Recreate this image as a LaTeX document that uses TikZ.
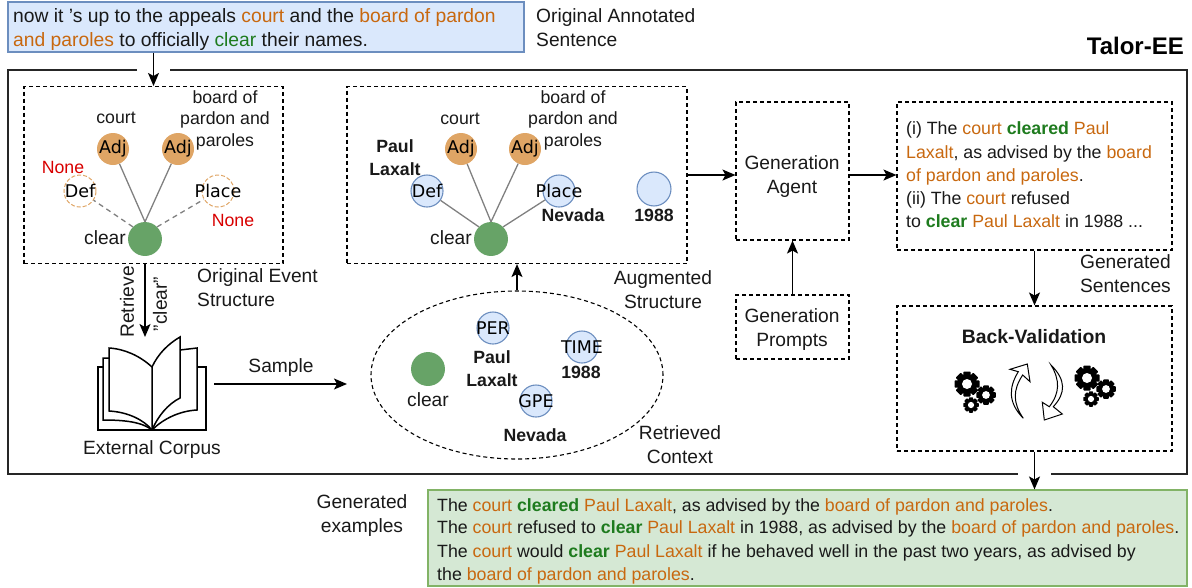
\documentclass[tikz,border=0pt]{standalone}
\usepackage{fontspec}
\setmainfont{Liberation Sans}
\newfontfamily\tagfont{DejaVu Sans}
\usetikzlibrary{shapes.geometric,arrows.meta}
\tikzset{>={Stealth[length=13pt,width=11pt,inset=3pt]}}
\definecolor{argorange}{HTML}{C8680F}
\definecolor{trigreen}{HTML}{1E7B1E}
\definecolor{nonered}{HTML}{D80000}
\definecolor{argfillc}{HTML}{DFA565}
\definecolor{trigfillc}{HTML}{67A367}
\definecolor{bluefillc}{HTML}{DAE8FC}
\definecolor{bluedrawc}{HTML}{6C8EBF}
\definecolor{resfillc}{HTML}{D5E8D4}
\definecolor{resdrawc}{HTML}{82B366}
\newcommand{\orgtxt}[1]{\textcolor{argorange}{#1}}
\newcommand{\grntxt}[1]{\textcolor{trigreen}{#1}}
\newcommand{\grnbf}[1]{\textcolor{trigreen}{\bfseries #1}}
\tikzset{
  lbl/.style = {font=\fontsize{19.2}{24}\selectfont, align=center, inner sep=0pt, text=black!90},
  smalllbl/.style = {lbl, font=\fontsize{17.7}{21.5}\selectfont},
  boldlbl/.style = {lbl, font=\fontsize{17.7}{23}\selectfont\bfseries},
  noneword/.style = {smalllbl, text=nonered},
  txtline/.style = {anchor=base west, inner sep=0pt, font=\fontsize{17.75}{20}\selectfont, text=black!90},
  srcline/.style = {txtline, font=\fontsize{19.3}{20}\selectfont},
  dashbox/.style = {draw, line width=1.1pt, dash pattern=on 4pt off 3pt, inner sep=0pt},
  arrowline/.style = {->, line width=1.4pt},
  evcircle/.style = {circle, minimum size=32pt, inner sep=-12pt, font=\tagfont\fontsize{17.5}{17.5}\selectfont},
  argfill/.style = {evcircle, fill=argfillc},
  emptyarg/.style = {evcircle, draw=argfillc, line width=1pt, dash pattern=on 4pt off 2pt},
  bluearg/.style = {evcircle, draw=bluedrawc, fill=bluefillc, line width=1.1pt},
  trignode/.style = {evcircle, fill=trigfillc},
  solidlink/.style = {draw=black!50, line width=1.3pt},
  dashlink/.style = {draw=black!50, line width=1.3pt, dash pattern=on 5pt off 4pt},
  gearicon/.pic = {
    \foreach \a in {0,45,...,315} {
      \fill[rotate=\a, rounded corners=0.8pt] (-3.6,-12.5) rectangle (3.6,-8);
    }
    \fill (0,0) circle (10);
    \fill[white] (0,0) circle (5);
  }
}

\begin{document}
\begin{tikzpicture}[x=1pt,y=-1pt]
  \useasboundingbox (0,0) rectangle (1192,587);

  % top sentence
  \node[draw=bluedrawc, fill=bluefillc, line width=1.1pt, minimum width=516pt, minimum height=50pt, inner sep=0pt] (srcbox) at (266,27) {};
  \node[srcline] (srcone) at (13,22) {now it 's up to the appeals \orgtxt{court} and the \orgtxt{board of pardon}};
  \node[srcline] (srctwo) at (13,46) {\orgtxt{and paroles} to officially \grntxt{clear} their names.};
  \node[lbl, align=left, anchor=west] (srclbl) at (536,28) {Original Annotated\\Sentence};
  \node[font=\fontsize{24}{28}\selectfont\bfseries, anchor=base east, inner sep=0pt] (title) at (1184,54) {Talor-EE};

  % outer frame
  \draw[line width=1.4pt, draw=black!85] (137,70) -| (8,474) -- (1018,474);
  \draw[line width=1.4pt, draw=black!85] (1051,474) -| (1187,70) -- (170,70);

  % original structure
  \node[dashbox, minimum width=259pt, minimum height=177pt] (origbox) at (153.5,175) {};
  \node[argfill] (adja) at (113,149) {Adj};
  \node[argfill] (adjb) at (178,149) {Adj};
  \node[emptyarg] (defa) at (80,191) {Def};
  \node[emptyarg] (placea) at (218,191) {Place};
  \node[trignode] (cleara) at (145,239) {};
  \draw[solidlink] (cleara.north) -- (adja);
  \draw[solidlink] (cleara.north) -- (adjb);
  \draw[dashlink] (cleara.north west) -- (defa);
  \draw[dashlink] (cleara.north east) -- (placea);
  \node[smalllbl] (courta) at (116,118) {court};
  \node[smalllbl] (boarda) at (225,120) {board of\\pardon and\\paroles};
  \node[noneword] (nonea) at (63,167) {None};
  \node[noneword] (noneb) at (233,220) {None};
  \node[lbl, anchor=east] (clearlbla) at (126,238) {clear};
  \node[lbl, align=left, anchor=west] (origlbl) at (197,288) {Original Event\\Structure};

  % augmented structure
  \node[dashbox, minimum width=340pt, minimum height=177pt] (augbox) at (517,175) {};
  \node[argfill] (adjc) at (461,149) {Adj};
  \node[argfill] (adjd) at (525,149) {Adj};
  \node[bluearg] (defb) at (427,191) {Def};
  \node[bluearg] (placeb) at (559,191) {Place};
  \node[bluearg] (timeb) at (654,189) {};
  \node[trignode] (clearb) at (491,239) {};
  \draw[solidlink] (clearb.north) -- (adjc);
  \draw[solidlink] (clearb.north) -- (adjd);
  \draw[solidlink] (clearb.north west) -- (defb);
  \draw[solidlink] (clearb.north east) -- (placeb);
  \node[smalllbl] (courtb) at (460,119) {court};
  \node[smalllbl] (boardb) at (573,120) {board of\\pardon and\\paroles};
  \node[boldlbl] (paulb) at (395,158) {Paul\\Laxalt};
  \node[boldlbl] (nevadab) at (573,215) {Nevada};
  \node[boldlbl] (yearb) at (654,215) {1988};
  \node[lbl, anchor=east] (clearlblb) at (472,238) {clear};
  \node[lbl] (auglbl) at (663,290) {Augmented\\Structure};

  % generation
  \node[dashbox, minimum width=113pt, minimum height=138pt] (agentbox) at (792.5,171) {};
  \node[lbl] (agentlbl) at (792,177) {Generation\\Agent};
  \node[dashbox, minimum width=113pt, minimum height=64pt] (promptbox) at (792.5,327) {};
  \node[lbl] (promptlbl) at (792,330) {Generation\\Prompts};
  \node[dashbox, minimum width=275pt, minimum height=148pt] (sentbox) at (1034.5,176) {};
  \node[txtline] (senta) at (906,134) {(i) The \orgtxt{court} \grnbf{cleared} \orgtxt{Paul}};
  \node[txtline] (sentb) at (906,158) {\orgtxt{Laxalt}, as advised by the \orgtxt{board}};
  \node[txtline] (sentc) at (906,181) {\orgtxt{of pardon and paroles}.};
  \node[txtline] (sentd) at (906,204) {(ii) The \orgtxt{court} refused};
  \node[txtline] (sente) at (906,227) {to \grnbf{clear} \orgtxt{Paul Laxalt} in 1988 ...};
  \node[lbl, anchor=east] (sentlbl) at (1171,274) {Generated\\Sentences};

  % back validation
  \node[dashbox, minimum width=275pt, minimum height=145pt] (backbox) at (1034.5,378.5) {};
  \node[boldlbl, font=\fontsize{19.4}{24}\selectfont\bfseries] (backlbl) at (1034,337) {Back-Validation};
  \pic at (967,384) {gearicon};
  \pic[scale=0.78] at (986,395) {gearicon};
  \pic[scale=0.62] at (971,405) {gearicon};
  \pic at (1087,378) {gearicon};
  \pic[scale=0.78] at (1106,389) {gearicon};
  \pic[scale=0.62] at (1091,399) {gearicon};
  \draw[line width=1pt, fill=white] (1023.3,418.3) .. controls (1008.3,403) and (1008.3,388) .. (1018.3,371.7)
    -- (1010,369.3) -- (1027.3,364) -- (1030,381.7) -- (1022.7,375)
    .. controls (1012.7,390) and (1012.7,403) .. cycle;
  \draw[line width=1pt, fill=white] (1051,365) .. controls (1066,380) and (1066,393) .. (1053.3,406.7)
    -- (1062.3,414) -- (1044.3,420) -- (1042.3,402.3) -- (1049.3,406.7)
    .. controls (1060,393) and (1060,380) .. cycle;

  % corpus
  \draw[line width=1.5pt] (103,367) -- (98,367) -- (98,430) -- (206,430) -- (206,367) -- (197,367);
  \draw[line width=1.5pt] (109,358) -- (103,358) -- (103,420) .. controls (125,420) and (142,422) .. (152,430);
  \draw[line width=1.5pt] (152,367) .. controls (140,356) and (125,349) .. (109,348) -- (109,411) .. controls (128,412) and (144,420) .. (152,430);
  \draw[line width=1.5pt] (152,430) -- (152,367) .. controls (158,354) and (168,344) .. (180,337) -- (180,398) .. controls (168,404) and (158,416) .. (152,430);
  \draw[line width=1.5pt] (180,350) -- (197,348) -- (197,410) .. controls (178,411) and (162,420) .. (152,430);
  \coordinate (bookTop) at (145,337);
  \coordinate (bookRight) at (214,384);
  \coordinate (sampleEnd) at (347,384);
  \node[lbl] (corpuslbl) at (152,450) {External Corpus};
  \node[lbl, rotate=90] (retrlbl) at (127,302) {Retrieve};
  \node[lbl, rotate=90] (quotelbl) at (160,304) {"clear"};
  \node[lbl] (samplelbl) at (281,368) {Sample};

  % retrieved context
  \node[ellipse, dashbox, minimum width=292pt, minimum height=168pt] (ctxell) at (517,375) {};
  \node[trignode] (clearc) at (428,369) {};
  \node[bluearg] (pernode) at (493,328) {PER};
  \node[bluearg] (timenode) at (582,347) {TIME};
  \node[bluearg] (gpenode) at (536,401) {GPE};
  \node[lbl] (clearlblc) at (428,400) {clear};
  \node[boldlbl] (paulc) at (492,369) {Paul\\Laxalt};
  \node[boldlbl] (yearc) at (581,372) {1988};
  \node[boldlbl] (nevadac) at (535,435) {Nevada};
  \node[lbl] (ctxlbl) at (680,445) {Retrieved\\Context};

  % connectors
  \draw[arrowline] (srcbox.south -| origbox.north) -- (origbox.north);
  \draw[arrowline] (origbox.south -| cleara) -- (bookTop);
  \draw[arrowline] (bookRight) -- (sampleEnd);
  \draw[arrowline] (ctxell.north) -- (augbox.south);
  \draw[arrowline] (augbox.east |- 0,175) -- (agentbox.west |- 0,175);
  \draw[arrowline] (agentbox.east |- 0,175) -- (sentbox.west |- 0,175);
  \draw[arrowline] (promptbox.north) -- (agentbox.south);
  \draw[arrowline] (sentbox.south) -- (backbox.north);

  % generated examples
  \node[draw=resdrawc, fill=resfillc, line width=1.1pt, minimum width=759pt, minimum height=96pt, inner sep=0pt] (resbox) at (807.5,538) {};
  \draw[arrowline] (backbox.south) -- (resbox.north -| backbox.south);
  \node[lbl] (reslbl) at (362,516) {Generated\\examples};
  \node[txtline] (resa) at (437,511) {The \orgtxt{court} \grnbf{cleared} \orgtxt{Paul Laxalt}, as advised by the \orgtxt{board of pardon and paroles}.};
  \node[txtline] (resb) at (437,533) {The \orgtxt{court} refused to \grnbf{clear} \orgtxt{Paul Laxalt} in 1988, as advised by the \orgtxt{board of pardon and paroles}.};
  \node[txtline] (resc) at (437,557) {The \orgtxt{court} would \grnbf{clear} \orgtxt{Paul Laxalt} if he behaved well in the past two years, as advised by};
  \node[txtline] (resd) at (437,580) {the \orgtxt{board of pardon and paroles}.};
\end{tikzpicture}
\end{document}
